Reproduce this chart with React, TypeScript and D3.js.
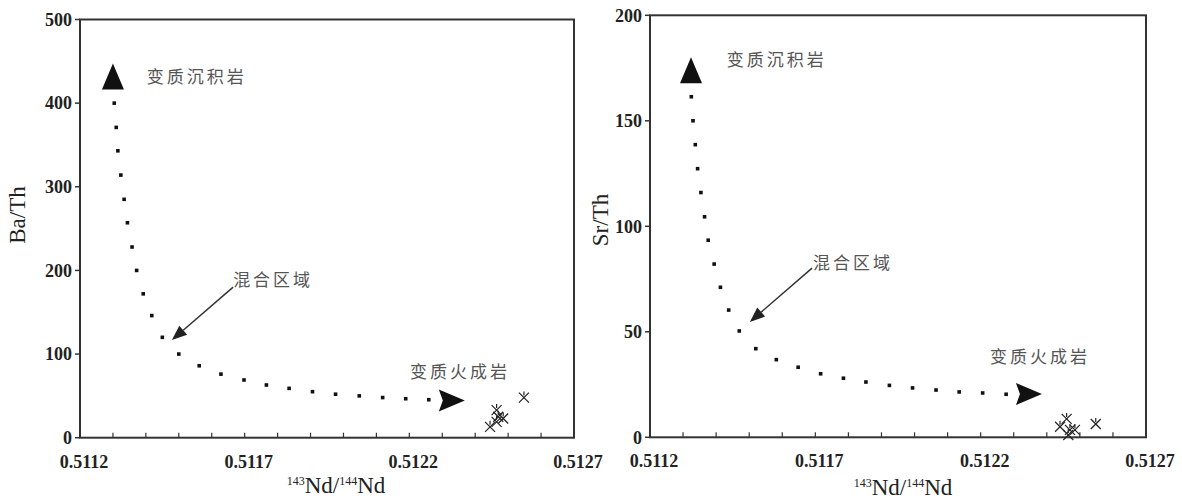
import React from "react";
import * as d3 from "d3";

// ---------- data ----------
const xTicks = [0.5112, 0.5117, 0.5122, 0.5127];
const xMinorStep = 0.0001;

// Left panel: Ba/Th mixing curve
const baCurveX = [0.511304, 0.51131, 0.511315, 0.511324, 0.511334, 0.511344, 0.511358, 0.511372, 0.511392, 0.511418, 0.51145, 0.5115, 0.511562, 0.511628, 0.511698, 0.511766, 0.511835, 0.511906, 0.511976, 0.512048, 0.512119, 0.512189, 0.512259];
const baCurveY = [400, 371, 343, 314, 285, 257, 228, 200, 172, 146, 120, 100, 86, 76, 69, 63, 59, 55, 52, 50, 48, 46.6, 45.4];
const baSamplesX = [0.512548, 0.512465, 0.512445, 0.512485, 0.512465, 0.51247];
const baSamplesY = [48, 33, 13, 23, 19, 25];
const baYTicks = [0, 100, 200, 300, 400, 500];

// Right panel: Sr/Th mixing curve
const srCurveX = [0.511325, 0.51133, 0.511337, 0.511344, 0.511354, 0.511365, 0.511376, 0.511394, 0.511413, 0.511438, 0.51147, 0.51152, 0.511582, 0.511648, 0.511716, 0.511785, 0.511853, 0.511924, 0.511994, 0.512065, 0.512135, 0.512206, 0.512277];
const srCurveY = [161.4, 150, 138.7, 127.3, 116, 104.5, 93.4, 82.1, 71.1, 60.3, 50.4, 42, 36.8, 33.2, 30.1, 28, 26.2, 24.6, 23.4, 22.4, 21.5, 21, 20.4];
const srSamplesX = [0.512548, 0.51246, 0.51244, 0.51247, 0.512485, 0.512465];
const srSamplesY = [6.3, 8.7, 5, 3.5, 3.5, 1.1];
const srYTicks = [0, 50, 100, 150, 200];

// Annotations (data coordinates)
const labelSed = "变质沉积岩";
const labelMix = "混合区域";
const labelIgn = "变质火成岩";

const baAnn = {
  up: [0.5113, 432],
  right: [0.512329, 44.5],
  sed: [0.511403, 431],
  mix: [0.511665, 188],
  ign: [0.512202, 78.5],
  arrowFrom: [0.511665, 180],
  arrowTo: [0.511479, 116.7],
};
const srAnn = {
  up: [0.511324, 174],
  right: [0.512346, 20.5],
  sed: [0.511432, 178.8],
  mix: [0.511693, 82.6],
  ign: [0.512228, 38],
  arrowFrom: [0.51169, 80.2],
  arrowTo: [0.511502, 54.7],
};

const SERIF = "'Liberation Serif', 'Times New Roman', serif";
const CJK = "'Noto Sans CJK SC', sans-serif";

type PanelProps = {
  xRange: [number, number];
  yRange: [number, number];
  yMax: number;
  yTicks: number[];
  cx: number[];
  cy: number[];
  sx: number[];
  sy: number[];
  ann: typeof baAnn;
  yLabel: string;
  yLabelPos: [number, number];
  xLabelPos: [number, number];
};

function Panel(p: PanelProps) {
  const x = d3.scaleLinear().domain([0.5112, 0.5127]).range(p.xRange);
  const y = d3.scaleLinear().domain([0, p.yMax]).range(p.yRange);
  const minor = d3.range(0.5112 + xMinorStep, 0.5127 - xMinorStep / 2, xMinorStep);
  const [x0, x1] = p.xRange;
  const [yb, yt] = p.yRange;

  const ux = x(p.ann.up[0]), uy = y(p.ann.up[1]);
  const rx = x(p.ann.right[0]), ry = y(p.ann.right[1]);
  const ax0 = x(p.ann.arrowFrom[0]), ay0 = y(p.ann.arrowFrom[1]);
  const ax1 = x(p.ann.arrowTo[0]), ay1 = y(p.ann.arrowTo[1]);
  const ang = Math.atan2(ay1 - ay0, ax1 - ax0);
  const hl = 15, hw = 6;
  const bx = ax1 - hl * Math.cos(ang), by = ay1 - hl * Math.sin(ang);
  const px = -Math.sin(ang) * hw, py = Math.cos(ang) * hw;

  const cjkStyle = { fontFamily: CJK, fontSize: 17, fill: "#555", letterSpacing: 3 } as React.CSSProperties;

  return (
    <g>
      {/* frame */}
      <rect x={x0} y={yt} width={x1 - x0} height={yb - yt} fill="none" stroke="#333" strokeWidth={2} />
      {/* y ticks */}
      {p.yTicks.map((t) => (
        <g key={"y" + t}>
          <line x1={x0 - 5} x2={x0} y1={y(t)} y2={y(t)} stroke="#333" strokeWidth={1.5} />
          <text x={x0 - 8} y={y(t)} dy="0.35em" textAnchor="end" fontFamily={SERIF} fontWeight="bold" fontSize={18} fill="#222">
            {t}
          </text>
        </g>
      ))}
      {/* x ticks */}
      {minor.map((t, i) => (
        <line key={"m" + i} x1={x(t)} x2={x(t)} y1={yb} y2={yb - 5} stroke="#333" strokeWidth={1.2} />
      ))}
      {xTicks.map((t) => (
        <text key={"x" + t} x={x(t) + 4} y={yb + 30} textAnchor="middle" fontFamily={SERIF} fontWeight="bold" fontSize={18} fill="#222">
          {d3.format(".4f")(t)}
        </text>
      ))}
      {/* axis labels */}
      <text
        transform={`translate(${p.yLabelPos[0]},${p.yLabelPos[1]}) rotate(-90)`}
        textAnchor="middle"
        dy="0.35em"
        fontFamily={SERIF}
        fontSize={23}
        fill="#222"
      >
        {p.yLabel}
      </text>
      <text x={p.xLabelPos[0]} y={p.xLabelPos[1]} textAnchor="middle" fontFamily={SERIF} fontSize={23} fill="#222">
        <tspan fontSize={12} dy={-8}>143</tspan>
        <tspan dy={8}>Nd/</tspan>
        <tspan fontSize={12} dy={-8}>144</tspan>
        <tspan dy={8}>Nd</tspan>
      </text>
      {/* curve dots */}
      {p.cx.map((v, i) => (
        <rect key={"c" + i} x={x(v) - 1.8} y={y(p.cy[i]) - 1.8} width={3.6} height={3.6} fill="#111" />
      ))}
      {/* end triangles */}
      <path d={`M${ux},${uy - 13} L${ux + 11},${uy + 13} L${ux - 11},${uy + 13} Z`} fill="#111" />
      <path d={`M${rx - 13},${ry - 11} L${rx + 13},${ry} L${rx - 13},${ry + 11} L${rx - 9},${ry} Z`} fill="#111" />
      {/* samples */}
      {p.sx.map((v, i) => {
        const cx = x(v), cy = y(p.sy[i]);
        return (
          <g key={"s" + i} stroke="#222" strokeWidth={1.2}>
            <line x1={cx - 5} y1={cy - 5} x2={cx + 5} y2={cy + 5} />
            <line x1={cx - 5} y1={cy + 5} x2={cx + 5} y2={cy - 5} />
            <line x1={cx} y1={cy - 6} x2={cx} y2={cy - 2} />
          </g>
        );
      })}
      {/* mixing arrow */}
      <line x1={ax0} y1={ay0} x2={bx} y2={by} stroke="#333" strokeWidth={1.5} />
      <path d={`M${ax1},${ay1} L${bx + px},${by + py} L${bx - px},${by - py} Z`} fill="#222" />
      {/* labels */}
      <text x={x(p.ann.sed[0])} y={y(p.ann.sed[1])} dy="0.35em" style={cjkStyle}>{labelSed}</text>
      <text x={x(p.ann.mix[0])} y={y(p.ann.mix[1])} dy="0.35em" style={cjkStyle}>{labelMix}</text>
      <text x={x(p.ann.ign[0])} y={y(p.ann.ign[1])} dy="0.35em" style={cjkStyle}>{labelIgn}</text>
    </g>
  );
}

export default function App() {
  return (
    <svg width={1182} height={502} style={{ position: "absolute", left: 0, top: 0, background: "#fff" }}>
      <rect width={1182} height={502} fill="#fff" />
      <Panel
        xRange={[80, 574]}
        yRange={[437.7, 19.5]}
        yMax={500}
        yTicks={baYTicks}
        cx={baCurveX}
        cy={baCurveY}
        sx={baSamplesX}
        sy={baSamplesY}
        ann={baAnn}
        yLabel="Ba/Th"
        yLabelPos={[17, 215]}
        xLabelPos={[336, 493]}
      />
      <Panel
        xRange={[650, 1146]}
        yRange={[437.3, 15.3]}
        yMax={200}
        yTicks={srYTicks}
        cx={srCurveX}
        cy={srCurveY}
        sx={srSamplesX}
        sy={srSamplesY}
        ann={srAnn}
        yLabel="Sr/Th"
        yLabelPos={[600, 220]}
        xLabelPos={[903, 495]}
      />
    </svg>
  );
}
